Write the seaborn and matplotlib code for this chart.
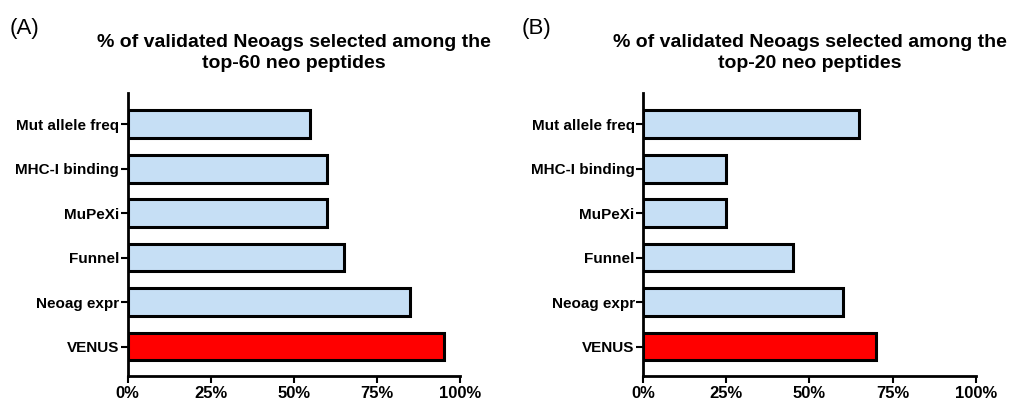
import pandas as pd
import matplotlib.pyplot as plt
import seaborn as sns
from matplotlib.ticker import PercentFormatter

methods = ['Mut allele freq', 'MHC-I binding', 'MuPeXi', 'Funnel', 'Neoag expr', 'VENUS']
top60_pct = [55, 60, 60, 65, 85, 95]
top20_pct = [65, 25, 25, 45, 60, 70]
panel_labels = ['(A)', '(B)']
titles = ['% of validated Neoags selected among the\ntop-60 neo peptides',
          '% of validated Neoags selected among the\ntop-20 neo peptides']
x_ticks = [0, 25, 50, 75, 100]

light_blue = '#C6DFF5'
bar_colors = {m: ('#FF0000' if m == 'VENUS' else light_blue) for m in methods}

sns.set_style('white', {'xtick.bottom': True, 'ytick.left': True,
                        'text.color': 'black', 'xtick.color': 'black', 'ytick.color': 'black'})
plt.rcParams['font.family'] = ['Liberation Sans', 'DejaVu Sans']

fig = plt.figure(figsize=(10.12, 4.03), dpi=100)
ax_a = fig.add_axes([0.126, 0.067, 0.3287, 0.702])
ax_b = fig.add_axes([0.6354, 0.067, 0.3290, 0.702])

for ax, vals, lab, title, lx in [(ax_a, top60_pct, panel_labels[0], titles[0], 0.010),
                                   (ax_b, top20_pct, panel_labels[1], titles[1], 0.515)]:
    df = pd.DataFrame({'method': methods, 'pct': vals})
    sns.barplot(data=df, y='method', x='pct', hue='method', palette=bar_colors,
                saturation=1, orient='h', width=0.62, edgecolor='black', linewidth=2.2,
                legend=False, ax=ax)
    ax.set_xlim(0, 100)
    ax.set_ylim(5.66, -0.7)
    ax.set_xticks(x_ticks)
    ax.xaxis.set_major_formatter(PercentFormatter(decimals=0))
    ax.set_xlabel('')
    ax.set_ylabel('')
    for s in ['top', 'right']:
        ax.spines[s].set_visible(False)
    for s in ['left', 'bottom']:
        ax.spines[s].set_linewidth(2)
        ax.spines[s].set_color('black')
    ax.tick_params(axis='y', which='major', direction='out', length=5, width=1.5,
                   color='black', labelsize=11, pad=1, labelcolor='black')
    ax.tick_params(axis='x', which='major', direction='out', length=5, width=1.5,
                   color='black', labelsize=12, pad=2.5, labelcolor='black')
    for t in ax.get_xticklabels() + ax.get_yticklabels():
        t.set_fontweight('bold')
    ax.set_title(title, fontsize=14, fontweight='bold', pad=18, linespacing=1.35,
                 color='black')
    fig.text(lx, 0.93, lab, fontsize=16, va='center', ha='left', color='black')

plt.savefig('out.png', dpi=100)
